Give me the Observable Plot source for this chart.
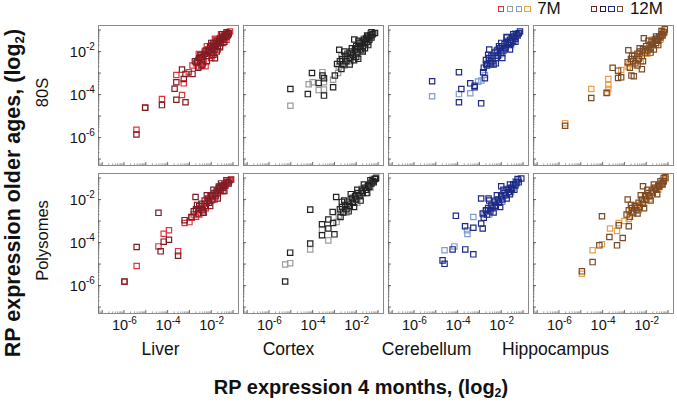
<!DOCTYPE html>
<html>
<head>
<meta charset="utf-8">
<script src="https://cdn.jsdelivr.net/npm/d3@7"></script>
<script src="https://cdn.jsdelivr.net/npm/@observablehq/plot@0.6"></script>
<style>
  body { margin: 0; background: #fff; font-family: "Liberation Sans", Arial, sans-serif; }
  #wrap { position: relative; width: 677px; height: 402px; }
  .ttl { position: absolute; font-weight: bold; white-space: nowrap; line-height: 1; color: #111; }
  .ttl sub { font-size: 0.62em; vertical-align: -0.25em; line-height: 0; }
  #legend { position: absolute; top: 0px; left: 498px; display: flex; align-items: center; font-size: 17px; line-height: 18px; color: #111; }
  .sq { display: inline-block; width: 4.4px; height: 4.4px; border: 1.3px solid; margin-right: 2.4px; }
</style>
</head>
<body>
<div id="wrap"></div>
<script>
// ---------- categories ----------
const tissues = ["Liver", "Cortex", "Cerebellum", "Hippocampus"];
const fractions = ["80S", "Polysomes"];
const ages = ["7M", "12M"];
// tick labels (decades shown as 10^exp)
const xLabelTicks = [1e-6, 1e-4, 1e-2];
const yLabelTicks = [1e-6, 1e-4, 1e-2];
const majorTicks = [1e-7, 1e-6, 1e-5, 1e-4, 1e-3, 1e-2, 1e-1];

// ---------- data: [log10 x (4 months), log10 y (older age)] ----------
const liver80S_7M = [[-5.43,-5.64],[-5.03,-4.60],[-4.26,-4.21],[-3.6,-3.09],[-3.34,-4.02],[-3.26,-3.48],[-3.03,-2.96],[-2.86,-2.65],[-2.63,-2.5],[-2.26,-2.68],[-2.57,-2.11],[-1.83,-1.41],[-1.14,-1.07],
 [-2.7,-2.55],[-2.6,-2.4],[-2.5,-2.35],[-2.45,-2.15],[-2.4,-2.4],[-2.35,-2.2],[-2.3,-2.0],[-2.2,-2.1],[-2.15,-1.9],[-2.1,-2.05],[-2.05,-1.8],[-2.0,-1.95],[-1.95,-1.7],[-1.9,-1.85],[-1.85,-1.65],[-1.8,-1.75],[-1.75,-1.55],[-1.7,-1.6],[-1.65,-1.45],[-1.6,-1.55],[-1.55,-1.35],[-1.5,-1.45],[-1.45,-1.3],[-1.4,-1.25],[-1.35,-1.35],[-1.3,-1.2],[-1.25,-1.15],[-1.2,-1.2],[-1.98,-2.2],[-1.7,-1.9],
 [-2.55,-2.7],[-2.35,-2.5],[-2.0,-2.3],[-1.8,-1.45],[-1.6,-1.75],[-1.45,-1.6],[-1.3,-1.45],[-2.2,-1.75],[-1.95,-2.0],[-1.55,-1.2]];
const liver80S_12M = [[-5.43,-5.86],[-5.03,-4.62],[-4.26,-4.49],[-3.6,-3.43],[-3.68,-3.73],[-3.6,-4.24],[-3.18,-4.36],[-3.26,-3.28],[-3.18,-3.04],[-3.34,-2.84],[-2.86,-3.04],[-2.45,-2.26],[-2.45,-2.65],[-1.83,-2.31],
 [-2.75,-2.45],[-2.65,-2.5],[-2.55,-2.3],[-2.5,-2.15],[-2.4,-2.25],[-2.3,-2.1],[-2.25,-1.95],[-2.2,-2.2],[-2.1,-1.95],[-2.05,-1.75],[-2.0,-2.05],[-1.95,-1.85],[-1.9,-1.6],[-1.85,-1.9],[-1.8,-1.7],[-1.75,-1.5],[-1.7,-1.75],[-1.65,-1.55],[-1.6,-1.4],[-1.55,-1.6],[-1.5,-1.35],[-1.45,-1.45],[-1.4,-1.3],[-1.35,-1.2],[-1.3,-1.3],[-1.25,-1.25],[-1.2,-1.15],[-2.15,-2.0],[-1.88,-1.78],
 [-2.6,-2.75],[-2.4,-2.6],[-2.2,-2.45],[-2.0,-1.6],[-1.75,-2.0],[-1.6,-1.8],[-1.4,-1.55],[-1.3,-1.1],[-1.5,-1.2],[-1.9,-2.15]];
const cortex80S_7M = [[-5.02,-4.52],[-4.18,-3.52],[-4.0,-3.43],[-3.55,-2.96],[-3.48,-3.43],[-3.72,-3.79],[-3.48,-3.77],[-3.06,-3.31],[-2.83,-3.0],[-2.68,-2.19],
 [-2.8,-2.7],[-2.7,-2.6],[-2.6,-2.4],[-2.5,-2.5],[-2.45,-2.3],[-2.35,-2.35],[-2.3,-2.15],[-2.2,-2.25],[-2.1,-2.0],[-2.0,-2.1],[-1.95,-1.85],[-1.85,-1.95],[-1.8,-1.7],[-1.7,-1.6],[-1.6,-1.5],[-1.55,-1.65],[-1.5,-1.4],[-1.4,-1.35],[-1.3,-1.25],[-1.2,-1.15],
 [-2.55,-2.65],[-2.25,-2.45],[-2.05,-1.85],[-1.75,-1.95],[-1.65,-1.4],[-1.45,-1.55],[-1.35,-1.15]];
const cortex80S_12M = [[-5.02,-3.74],[-4.03,-3.0],[-4.22,-3.98],[-3.72,-3.46],[-3.55,-3.12],[-3.48,-3.24],[-3.48,-4.05],[-3.06,-3.66],[-2.98,-3.12],[-2.78,-1.92],[-2.88,-2.58],[-2.68,-2.81],[-2.09,-1.44],[-1.91,-2.34],[-1.14,-1.14],
 [-2.75,-2.45],[-2.65,-2.35],[-2.6,-2.6],[-2.5,-2.2],[-2.45,-2.45],[-2.4,-2.1],[-2.3,-2.3],[-2.25,-2.0],[-2.2,-1.85],[-2.15,-2.15],[-2.05,-1.9],[-2.0,-1.75],[-1.95,-2.05],[-1.9,-1.8],[-1.85,-1.6],[-1.8,-1.9],[-1.75,-1.55],[-1.7,-1.75],[-1.65,-1.45],[-1.6,-1.6],[-1.55,-1.4],[-1.5,-1.55],[-1.45,-1.3],[-1.4,-1.45],[-1.35,-1.25],[-1.3,-1.35],[-1.25,-1.2],
 [-2.55,-2.0],[-2.3,-2.6],[-2.1,-2.4],[-1.9,-1.5],[-1.7,-2.0],[-1.5,-1.25],[-1.45,-1.7],[-1.3,-1.1],[-2.0,-2.25],[-1.6,-1.85]];
const cerebellum80S_7M = [[-5.17,-4.08],[-3.94,-3.98],[-3.42,-3.94],[-3.06,-3.4],[-2.91,-3.35],[-2.75,-3.09],
 [-2.7,-2.6],[-2.6,-2.45],[-2.5,-2.5],[-2.4,-2.3],[-2.3,-2.2],[-2.2,-2.05],[-2.1,-2.15],[-2.0,-1.9],[-1.9,-1.75],[-1.8,-1.8],[-1.7,-1.6],[-1.6,-1.5],[-1.5,-1.45],[-1.4,-1.35],[-1.3,-1.2],[-1.2,-1.15],
 [-2.45,-2.6],[-2.15,-1.9],[-1.95,-2.1],[-1.75,-1.5],[-1.55,-1.7],[-1.35,-1.15]];
const cerebellum80S_12M = [[-5.17,-3.38],[-3.94,-2.96],[-3.94,-4.36],[-3.83,-3.74],[-3.42,-3.48],[-3.22,-3.59],[-3.22,-3.66],[-2.92,-4.41],[-2.83,-2.96],[-2.75,-3.24],[-2.55,-1.91],[-2.68,-2.58],[-1.75,-1.33],[-1.14,-1.07],
 [-2.8,-2.75],[-2.7,-2.4],[-2.65,-2.65],[-2.55,-2.3],[-2.5,-2.55],[-2.45,-2.2],[-2.4,-2.45],[-2.3,-2.05],[-2.25,-2.3],[-2.2,-1.95],[-2.15,-2.2],[-2.05,-1.85],[-2.0,-2.05],[-1.95,-1.75],[-1.9,-1.95],[-1.85,-1.65],[-1.8,-1.85],[-1.7,-1.55],[-1.65,-1.7],[-1.6,-1.45],[-1.55,-1.6],[-1.5,-1.35],[-1.45,-1.5],[-1.4,-1.3],[-1.35,-1.4],[-1.3,-1.2],[-1.25,-1.25],[-1.2,-1.15],
 [-2.6,-2.15],[-2.35,-2.6],[-2.1,-1.75],[-1.95,-2.3],[-1.75,-1.35],[-1.6,-1.9],[-1.45,-1.2],[-1.35,-1.55],[-2.0,-1.6],[-2.25,-2.55]];
const hippocampus80S_7M = [[-5.72,-5.33],[-4.52,-3.74],[-3.74,-3.74],[-3.74,-3.56],[-3.78,-3.9],[-3.74,-3.28],[-3.15,-2.86],[-2.77,-2.58],
 [-2.85,-2.7],[-2.7,-2.5],[-2.6,-2.6],[-2.5,-2.35],[-2.4,-2.25],[-2.3,-2.3],[-2.2,-2.0],[-2.1,-2.1],[-2.0,-1.85],[-1.9,-1.9],[-1.8,-1.65],[-1.7,-1.7],[-1.6,-1.5],[-1.5,-1.45],[-1.4,-1.3],[-1.3,-1.25],[-1.2,-1.15],[-1.15,-1.1],
 [-2.55,-2.15],[-2.25,-2.45],[-1.95,-2.1],[-1.75,-1.45],[-1.55,-1.7],[-1.35,-1.45],[-1.25,-1.05]];
const hippocampus80S_12M = [[-5.72,-5.45],[-4.52,-4.16],[-3.82,-3.93],[-3.54,-2.76],[-3.29,-2.89],[-3.29,-3.23],[-3.15,-3.2],[-2.82,-1.94],[-2.68,-3.12],[-2.57,-3.15],[-2.2,-2.82],[-2.11,-1.38],[-1.15,-0.97],
 [-2.85,-2.5],[-2.75,-2.75],[-2.7,-2.35],[-2.6,-2.45],[-2.55,-2.2],[-2.5,-2.55],[-2.4,-2.1],[-2.35,-2.35],[-2.3,-2.0],[-2.2,-2.2],[-2.15,-1.9],[-2.05,-2.05],[-2.0,-1.75],[-1.95,-1.95],[-1.85,-1.7],[-1.8,-1.85],[-1.75,-1.55],[-1.7,-1.7],[-1.6,-1.45],[-1.55,-1.6],[-1.5,-1.4],[-1.45,-1.5],[-1.4,-1.3],[-1.35,-1.35],[-1.3,-1.2],[-1.25,-1.25],[-1.2,-1.1],
 [-2.65,-2.2],[-2.4,-2.65],[-2.15,-2.45],[-1.9,-1.5],[-1.8,-2.05],[-1.55,-1.3],[-1.45,-1.7],[-1.3,-1.05],[-2.3,-1.85],[-1.65,-1.9]];
const liverPoly_7M = [[-5.98,-5.82],[-5.42,-5.09],[-4.42,-4.18],[-4.18,-3.59],[-3.94,-3.43],[-3.52,-4.4],[-3.22,-3.09],
 [-3.0,-3.05],[-2.9,-2.85],[-2.8,-2.7],[-2.7,-2.8],[-2.6,-2.5],[-2.5,-2.4],[-2.4,-2.45],[-2.3,-2.2],[-2.2,-2.1],[-2.1,-2.0],[-2.0,-2.05],[-1.9,-1.8],[-1.8,-1.75],[-1.7,-1.6],[-1.6,-1.55],[-1.5,-1.4],[-1.4,-1.35],[-1.3,-1.25],[-1.2,-1.15],
 [-2.55,-2.7],[-2.25,-2.4],[-2.05,-1.8],[-1.85,-2.0],[-1.65,-1.45],[-1.45,-1.6],[-1.3,-1.1],[-1.15,-1.1]];
const liverPoly_12M = [[-5.98,-5.81],[-5.42,-4.21],[-4.42,-2.62],[-4.32,-4.41],[-4.18,-3.96],[-3.94,-3.87],[-3.52,-4.61],[-3.22,-2.96],[-2.91,-2.81],[-2.72,-1.88],[-2.37,-2.62],[-1.09,-1.07],
 [-2.8,-2.55],[-2.7,-2.45],[-2.6,-2.65],[-2.55,-2.3],[-2.45,-2.2],[-2.4,-2.5],[-2.3,-2.05],[-2.25,-2.3],[-2.15,-1.95],[-2.1,-2.15],[-2.0,-1.85],[-1.95,-2.0],[-1.85,-1.7],[-1.8,-1.85],[-1.75,-1.6],[-1.7,-1.7],[-1.6,-1.45],[-1.55,-1.6],[-1.5,-1.35],[-1.45,-1.45],[-1.4,-1.3],[-1.35,-1.35],[-1.25,-1.2],[-1.2,-1.25],
 [-2.65,-2.25],[-2.35,-2.6],[-2.05,-2.3],[-1.9,-1.55],[-1.7,-1.95],[-1.55,-1.25],[-1.4,-1.6],[-1.3,-1.1],[-2.2,-1.8],[-1.65,-1.4]];
const cortexPoly_7M = [[-5.26,-5.02],[-5.03,-4.96],[-4.11,-4.32],[-3.57,-3.4],[-3.28,-3.9],[-2.9,-3.05],
 [-2.8,-2.75],[-2.7,-2.6],[-2.6,-2.55],[-2.5,-2.35],[-2.4,-2.4],[-2.3,-2.2],[-2.2,-2.15],[-2.1,-2.0],[-2.0,-1.95],[-1.9,-1.8],[-1.8,-1.75],[-1.7,-1.6],[-1.6,-1.55],[-1.5,-1.4],[-1.4,-1.35],[-1.3,-1.2],[-1.2,-1.15],[-1.08,-0.97],
 [-2.45,-2.6],[-2.15,-1.9],[-1.95,-2.15],[-1.75,-1.5],[-1.55,-1.7],[-1.35,-1.45],[-1.25,-1.05]];
const cortexPoly_12M = [[-5.26,-5.81],[-5.03,-4.47],[-4.11,-2.47],[-4.11,-4.05],[-3.57,-3.15],[-3.57,-3.66],[-3.28,-2.93],[-3.28,-3.35],[-3.06,-3.09],[-3.0,-3.62],[-2.92,-1.88],[-3.08,-2.58],[-2.72,-2.81],[-2.66,-2.11],[-1.1,-1.02],
 [-2.75,-2.45],[-2.65,-2.35],[-2.6,-2.6],[-2.5,-2.25],[-2.45,-2.45],[-2.35,-2.1],[-2.3,-2.3],[-2.2,-1.95],[-2.15,-2.15],[-2.05,-1.85],[-2.0,-2.0],[-1.9,-1.7],[-1.85,-1.85],[-1.75,-1.6],[-1.7,-1.7],[-1.6,-1.45],[-1.55,-1.55],[-1.45,-1.35],[-1.4,-1.4],[-1.3,-1.25],[-1.25,-1.15],[-1.2,-1.2],
 [-2.55,-2.05],[-2.35,-2.55],[-2.1,-2.35],[-1.95,-1.55],[-1.8,-2.05],[-1.65,-1.3],[-1.5,-1.7],[-1.35,-1.1],[-2.25,-1.75],[-1.15,-1.05]];
const cerebellumPoly_7M = [[-4.6,-4.36],[-4.15,-4.18],[-3.57,-3.43],[-3.55,-3.6],[-3.28,-2.81],
 [-2.8,-2.7],[-2.7,-2.55],[-2.6,-2.5],[-2.5,-2.4],[-2.4,-2.3],[-2.3,-2.25],[-2.2,-2.1],[-2.1,-2.0],[-2.0,-1.9],[-1.9,-1.85],[-1.8,-1.7],[-1.7,-1.65],[-1.6,-1.5],[-1.5,-1.45],[-1.4,-1.3],[-1.3,-1.25],[-1.2,-1.1],
 [-2.55,-2.7],[-2.25,-2.05],[-1.95,-2.1],[-1.75,-1.5],[-1.55,-1.65],[-1.35,-1.15]];
const cerebellumPoly_12M = [[-4.69,-4.83],[-4.6,-4.99],[-4.23,-4.32],[-4.08,-2.76],[-3.65,-4.32],[-3.28,-4.55],[-3.66,-3.24],[-3.28,-3.31],[-2.92,-1.95],[-2.92,-3.12],[-2.85,-3.35],[-2.58,-1.95],[-2.0,-1.38],[-1.08,-1.02],
 [-2.85,-2.65],[-2.8,-2.85],[-2.7,-2.5],[-2.65,-2.7],[-2.6,-2.4],[-2.5,-2.55],[-2.45,-2.25],[-2.4,-2.4],[-2.3,-2.1],[-2.25,-2.3],[-2.15,-2.0],[-2.1,-2.15],[-2.0,-1.85],[-1.95,-2.0],[-1.85,-1.7],[-1.8,-1.8],[-1.7,-1.55],[-1.65,-1.65],[-1.55,-1.45],[-1.5,-1.5],[-1.45,-1.3],[-1.35,-1.35],[-1.3,-1.2],[-1.2,-1.2],
 [-2.55,-2.05],[-2.35,-2.6],[-2.05,-2.35],[-1.9,-1.55],[-1.75,-1.95],[-1.6,-1.3],[-1.4,-1.55],[-1.25,-1.05],[-2.2,-1.8],[-1.6,-1.75]];
const hippocampusPoly_7M = [[-4.95,-5.45],[-4.46,-4.36],[-4.03,-4.08],[-3.66,-3.35],[-3.34,-3.46],[-3.26,-3.09],[-3.0,-3.0],[-2.8,-2.9],
 [-2.7,-2.55],[-2.6,-2.65],[-2.5,-2.4],[-2.4,-2.3],[-2.3,-2.25],[-2.2,-2.1],[-2.1,-2.05],[-2.0,-1.9],[-1.9,-1.85],[-1.8,-1.7],[-1.7,-1.65],[-1.6,-1.5],[-1.5,-1.45],[-1.4,-1.35],[-1.3,-1.3],[-1.2,-1.15],[-1.12,-1.05],
 [-2.55,-2.25],[-2.35,-2.5],[-2.05,-1.8],[-1.85,-2.0],[-1.65,-1.45],[-1.45,-1.55],[-1.25,-1.1]];
const hippocampusPoly_12M = [[-4.95,-5.34],[-4.46,-4.91],[-4.15,-4.13],[-4.03,-2.78],[-3.69,-3.74],[-3.34,-4.13],[-3.26,-3.2],[-3.08,-3.79],[-2.85,-2.0],[-2.8,-3.24],[-2.15,-1.38],[-1.12,-0.97],
 [-2.9,-2.7],[-2.8,-2.5],[-2.75,-2.8],[-2.65,-2.4],[-2.6,-2.6],[-2.5,-2.3],[-2.45,-2.5],[-2.35,-2.15],[-2.3,-2.35],[-2.2,-2.0],[-2.15,-2.2],[-2.05,-1.85],[-2.0,-2.0],[-1.9,-1.7],[-1.85,-1.85],[-1.75,-1.6],[-1.7,-1.7],[-1.6,-1.45],[-1.55,-1.55],[-1.45,-1.35],[-1.4,-1.4],[-1.3,-1.25],[-1.25,-1.3],[-1.2,-1.15],
 [-2.7,-2.25],[-2.4,-2.65],[-2.1,-2.4],[-1.95,-1.55],[-1.8,-2.05],[-1.65,-1.3],[-1.5,-1.75],[-1.35,-1.15],[-2.25,-1.8],[-1.2,-1.0]];

const seriesList = [
  ["Liver","80S","7M",liver80S_7M],["Cortex","80S","7M",cortex80S_7M],["Cerebellum","80S","7M",cerebellum80S_7M],["Hippocampus","80S","7M",hippocampus80S_7M],
  ["Liver","Polysomes","7M",liverPoly_7M],["Cortex","Polysomes","7M",cortexPoly_7M],["Cerebellum","Polysomes","7M",cerebellumPoly_7M],["Hippocampus","Polysomes","7M",hippocampusPoly_7M],
  ["Liver","80S","12M",liver80S_12M],["Cortex","80S","12M",cortex80S_12M],["Cerebellum","80S","12M",cerebellum80S_12M],["Hippocampus","80S","12M",hippocampus80S_12M],
  ["Liver","Polysomes","12M",liverPoly_12M],["Cortex","Polysomes","12M",cortexPoly_12M],["Cerebellum","Polysomes","12M",cerebellumPoly_12M],["Hippocampus","Polysomes","12M",hippocampusPoly_12M]
];
const rows = [];
for (const [tissue, fraction, age, pts] of seriesList)
  for (const [lx, ly] of pts) rows.push({tissue, fraction, age, x: 10 ** lx, y: 10 ** ly});

const colorKeys = ["Liver 7M","Cortex 7M","Cerebellum 7M","Hippocampus 7M","Liver 12M","Cortex 12M","Cerebellum 12M","Hippocampus 12M"];
const colorRange = ["#e0343c","#9c9c9c","#7f9dd2","#eb9f48","#7e1d24","#222222","#1e2a86","#7b4a26"];

const xDomain = [10 ** -7.17, 10 ** -0.75];
const yDomain = [10 ** -7.3, 10 ** -0.79];
const allMinor = [];
for (let k = -8; k <= -1; k++) for (let m = 2; m <= 9; m++) allMinor.push(m * 10 ** k);
const inside = dom => v => v >= dom[0] && v <= dom[1];
const xMinor = allMinor.filter(inside(xDomain)), yMinor = allMinor.filter(inside(yDomain));
const xMajor = majorTicks.filter(inside(xDomain)), yMajor = majorTicks.filter(inside(yDomain));

const fs = "Liberation Sans, Arial, sans-serif";
const tissueDx = [-8, -25, -32, -48];

const chart = Plot.plot({
  width: 677, height: 402,
  marginLeft: 98, marginRight: 3, marginTop: 24, marginBottom: 89,
  style: {fontFamily: fs, color: "#111", background: "#fff"},
  x: {type: "log", domain: xDomain},
  y: {type: "log", domain: yDomain},
  fx: {domain: tissues, paddingInner: 0.034, paddingOuter: 0, axis: null},
  fy: {domain: fractions, paddingInner: 0.056, paddingOuter: 0, axis: null},
  color: {domain: colorKeys, range: colorRange},
  marks: [
    Plot.frame({stroke: "#8a8a8a", strokeWidth: 1}),
    // inward ticks: outward tick of size s shifted inward by s
    Plot.axisX({ticks: xMajor, anchor: "bottom", tickSize: 3, dy: -3, tickFormat: () => "", label: null, facetAnchor: null, stroke: "#444", strokeWidth: 0.8}),
    Plot.axisX({ticks: xMinor, anchor: "bottom", tickSize: 1.6, dy: -1.6, tickFormat: () => "", label: null, facetAnchor: null, stroke: "#666", strokeWidth: 0.6}),
    Plot.axisY({ticks: yMajor, anchor: "left", tickSize: 3, dx: 3, tickFormat: () => "", label: null, facetAnchor: null, stroke: "#444", strokeWidth: 0.8}),
    Plot.axisY({ticks: yMinor, anchor: "left", tickSize: 1.6, dx: 1.6, tickFormat: () => "", label: null, facetAnchor: null, stroke: "#666", strokeWidth: 0.6}),
    // x tick labels 10^exp (bottom row)
    Plot.text(xLabelTicks, {x: d => d, text: () => "10", frameAnchor: "bottom", lineAnchor: "top", textAnchor: "middle", dx: -4, dy: 6, fontSize: 14.5, fill: "#111", facetAnchor: "bottom"}),
    Plot.text(xLabelTicks, {x: d => d, text: d => "-" + Math.round(-Math.log10(d)), frameAnchor: "bottom", lineAnchor: "top", textAnchor: "start", dx: 4, dy: 3, fontSize: 10, fill: "#111", facetAnchor: "bottom"}),
    // y tick labels 10^exp (left column)
    Plot.text(yLabelTicks, {y: d => d, text: () => "10", frameAnchor: "left", lineAnchor: "middle", textAnchor: "end", dx: -12.5, dy: 0.5, fontSize: 14.5, fill: "#111", facetAnchor: "left"}),
    Plot.text(yLabelTicks, {y: d => d, text: d => "-" + Math.round(-Math.log10(d)), frameAnchor: "left", lineAnchor: "middle", textAnchor: "start", dx: -12.5, dy: -4.5, fontSize: 10, fill: "#111", facetAnchor: "left"}),
    // row labels
    Plot.text(fractions, {fy: d => d, text: d => d, frameAnchor: "left", rotate: -90, lineAnchor: "middle", textAnchor: "middle", dx: -55.5, dy: -3, fontSize: 16.5, fill: "#111", facetAnchor: "left"}),
    // column labels
    ...tissues.map((t, i) => Plot.text([t], {fx: d => d, text: d => d, frameAnchor: "bottom", lineAnchor: "middle", textAnchor: "middle", dx: tissueDx[i], dy: 36, fontSize: 17.5, fill: "#111", facetAnchor: "bottom"})),
    Plot.dot(rows, {x: "x", y: "y", fx: "tissue", fy: "fraction", stroke: d => d.tissue + " " + d.age, symbol: "square", r: 3, strokeWidth: 1.2, fill: "none"})
  ]
});

const wrap = document.getElementById("wrap");
wrap.appendChild(chart);

// axis titles
const bt = document.createElement("div");
bt.className = "ttl";
bt.style.cssText = "left:361px; top:377px; font-size:20px; transform:translateX(-50%);";
bt.innerHTML = "RP expression 4 months, (log<sub>2</sub>)";
wrap.appendChild(bt);
const lt = document.createElement("div");
lt.className = "ttl";
lt.style.cssText = "left:14px; top:193px; font-size:21.5px; transform:translate(-50%,-50%) rotate(-90deg);";
lt.innerHTML = "RP expression older ages, (log<sub>2</sub>)";
wrap.appendChild(lt);

// legend
const leg = document.createElement("div");
leg.id = "legend";
const legendGroups = [["7M", colorRange.slice(0, 4)], ["12M", colorRange.slice(4)]];
legendGroups.forEach(([label, cols], gi) => {
  cols.forEach(c => { const s = document.createElement("span"); s.className = "sq"; s.style.borderColor = c; leg.appendChild(s); });
  const t = document.createElement("span");
  t.textContent = label;
  t.style.marginLeft = "4px";
  t.style.marginRight = gi === 0 ? "30px" : "0";
  leg.appendChild(t);
});
wrap.appendChild(leg);
</script>
</body>
</html>
